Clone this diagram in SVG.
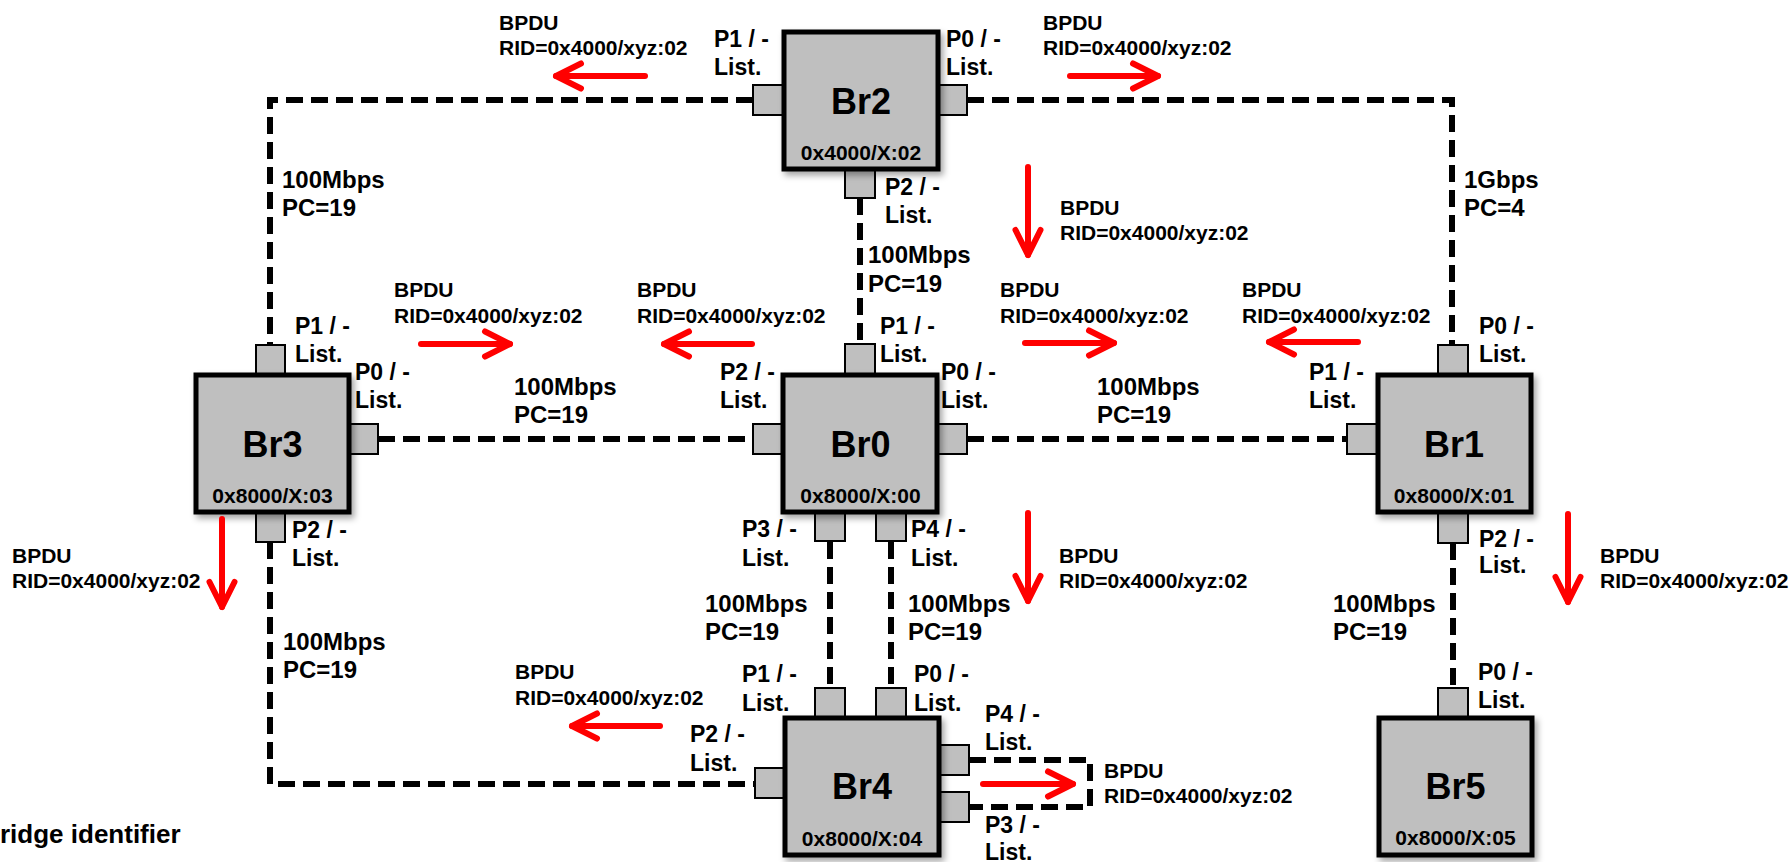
<svg xmlns="http://www.w3.org/2000/svg" width="1792" height="862" viewBox="0 0 1792 862">
<style>
text{font-family:"Liberation Sans",Arial,sans-serif;font-weight:bold;fill:#000}
.box{fill:#bfbfbf;stroke:#000;stroke-width:5;filter:url(#sh)}
.port{fill:#bfbfbf;stroke:#000;stroke-width:2}
.name{font-size:36px;text-anchor:middle}
.rid{font-size:21px;text-anchor:middle}
.pl{font-size:23px}
.ll{font-size:24px}
.bp{font-size:21px}
.link{fill:none;stroke:#000;stroke-width:6;stroke-dasharray:17 8}
.arr{fill:none;stroke:#ff0000;stroke-width:6;stroke-linecap:round;marker-end:url(#ah)}
</style>
<defs>
<filter id="sh" x="-10%" y="-10%" width="130%" height="130%">
<feDropShadow dx="3" dy="4" stdDeviation="3" flood-color="#000" flood-opacity="0.35"/>
</filter>
<marker id="ah" markerUnits="userSpaceOnUse" markerWidth="40" markerHeight="40" viewBox="-30 -20 40 40" refX="0" refY="0" orient="auto">
<path d="M-25,-12.5 L0,0 L-25,12.5" fill="none" stroke="#ff0000" stroke-width="6" stroke-linecap="round" stroke-linejoin="round"/>
</marker>
</defs>
<rect width="1792" height="862" fill="#fff"/>

<g id="connectors">
<polyline class="link" points="753,100 270,100 270,345"/>
<polyline class="link" points="967,100 1452,100 1452,345"/>
<line class="link" x1="860" y1="198" x2="860" y2="344"/>
<line class="link" x1="378" y1="439" x2="753" y2="439"/>
<line class="link" x1="967" y1="439" x2="1347" y2="439"/>
<polyline class="link" points="270,542 270,784 755,784"/>
<line class="link" x1="830" y1="542" x2="830" y2="688"/>
<line class="link" x1="891" y1="542" x2="891" y2="688"/>
<line class="link" x1="1453" y1="543" x2="1453" y2="688"/>
<polyline class="link" points="969,760 1090,760 1090,807 969,807"/>
</g>

<g id="link-labels">
<text class="ll" x="282" y="188">100Mbps</text><text class="ll" x="282" y="216">PC=19</text>
<text class="ll" x="1464" y="188">1Gbps</text><text class="ll" x="1464" y="216">PC=4</text>
<text class="ll" x="868" y="263">100Mbps</text><text class="ll" x="868" y="292">PC=19</text>
<text class="ll" x="514" y="395">100Mbps</text><text class="ll" x="514" y="423">PC=19</text>
<text class="ll" x="1097" y="395">100Mbps</text><text class="ll" x="1097" y="423">PC=19</text>
<text class="ll" x="283" y="650">100Mbps</text><text class="ll" x="283" y="678">PC=19</text>
<text class="ll" x="705" y="612">100Mbps</text><text class="ll" x="705" y="640">PC=19</text>
<text class="ll" x="908" y="612">100Mbps</text><text class="ll" x="908" y="640">PC=19</text>
<text class="ll" x="1333" y="612">100Mbps</text><text class="ll" x="1333" y="640">PC=19</text>
</g>

<g id="br2">
<rect class="port" x="753" y="85" width="31" height="30"/>
<rect class="port" x="937" y="85" width="30" height="30"/>
<rect class="port" x="845" y="169" width="30" height="29"/>
<rect class="box" x="784" y="32" width="154" height="137"/>
<text class="name" x="861" y="114">Br2</text>
<text class="rid" x="861" y="160">0x4000/X:02</text>
<text class="pl" x="714" y="47">P1 / -</text><text class="pl" x="714" y="75">List.</text>
<text class="pl" x="946" y="47">P0 / -</text><text class="pl" x="946" y="75">List.</text>
<text class="pl" x="885" y="195">P2 / -</text><text class="pl" x="885" y="223">List.</text>
</g>

<g id="br3">
<rect class="port" x="256" y="345" width="29" height="30"/>
<rect class="port" x="348" y="424" width="30" height="30"/>
<rect class="port" x="256" y="512" width="29" height="30"/>
<rect class="box" x="196" y="375" width="153" height="137"/>
<text class="name" x="272.5" y="457">Br3</text>
<text class="rid" x="272.5" y="503">0x8000/X:03</text>
<text class="pl" x="295" y="334">P1 / -</text><text class="pl" x="295" y="362">List.</text>
<text class="pl" x="355" y="380">P0 / -</text><text class="pl" x="355" y="408">List.</text>
<text class="pl" x="292" y="538">P2 / -</text><text class="pl" x="292" y="566">List.</text>
</g>

<g id="br0">
<rect class="port" x="845" y="344" width="30" height="31"/>
<rect class="port" x="753" y="424" width="30" height="30"/>
<rect class="port" x="937" y="424" width="30" height="30"/>
<rect class="port" x="815" y="512" width="30" height="29"/>
<rect class="port" x="876" y="512" width="30" height="29"/>
<rect class="box" x="783" y="375" width="154" height="137"/>
<text class="name" x="860.5" y="457">Br0</text>
<text class="rid" x="860.5" y="503">0x8000/X:00</text>
<text class="pl" x="880" y="334">P1 / -</text><text class="pl" x="880" y="362">List.</text>
<text class="pl" x="720" y="380">P2 / -</text><text class="pl" x="720" y="408">List.</text>
<text class="pl" x="941" y="380">P0 / -</text><text class="pl" x="941" y="408">List.</text>
<text class="pl" x="742" y="537">P3 / -</text><text class="pl" x="742" y="566">List.</text>
<text class="pl" x="911" y="537">P4 / -</text><text class="pl" x="911" y="566">List.</text>
</g>

<g id="br1">
<rect class="port" x="1438" y="345" width="30" height="30"/>
<rect class="port" x="1347" y="424" width="31" height="30"/>
<rect class="port" x="1438" y="512" width="30" height="31"/>
<rect class="box" x="1378" y="375" width="153" height="137"/>
<text class="name" x="1454" y="457">Br1</text>
<text class="rid" x="1454" y="503">0x8000/X:01</text>
<text class="pl" x="1479" y="334">P0 / -</text><text class="pl" x="1479" y="362">List.</text>
<text class="pl" x="1309" y="380">P1 / -</text><text class="pl" x="1309" y="408">List.</text>
<text class="pl" x="1479" y="547">P2 / -</text><text class="pl" x="1479" y="573">List.</text>
</g>

<g id="br4">
<rect class="port" x="815" y="688" width="30" height="30"/>
<rect class="port" x="876" y="688" width="30" height="30"/>
<rect class="port" x="755" y="768" width="30" height="30"/>
<rect class="port" x="939" y="745" width="30" height="30"/>
<rect class="port" x="939" y="792" width="30" height="30"/>
<rect class="box" x="785" y="718" width="154" height="137"/>
<text class="name" x="862" y="799">Br4</text>
<text class="rid" x="862" y="846">0x8000/X:04</text>
<text class="pl" x="742" y="682">P1 / -</text><text class="pl" x="742" y="711">List.</text>
<text class="pl" x="914" y="682">P0 / -</text><text class="pl" x="914" y="711">List.</text>
<text class="pl" x="690" y="742">P2 / -</text><text class="pl" x="690" y="771">List.</text>
<text class="pl" x="985" y="722">P4 / -</text><text class="pl" x="985" y="750">List.</text>
<text class="pl" x="985" y="833">P3 / -</text><text class="pl" x="985" y="860">List.</text>
</g>

<g id="br5">
<rect class="port" x="1438" y="688" width="30" height="30"/>
<rect class="box" x="1379" y="718" width="153" height="137"/>
<text class="name" x="1455.5" y="799">Br5</text>
<text class="rid" x="1455.5" y="845">0x8000/X:05</text>
<text class="pl" x="1478" y="680">P0 / -</text><text class="pl" x="1478" y="708">List.</text>
</g>

<g id="bpdu-arrows">
<line class="arr" x1="645" y1="76" x2="556" y2="76"/>
<line class="arr" x1="1070" y1="76" x2="1158" y2="76"/>
<line class="arr" x1="1028" y1="167" x2="1028" y2="255"/>
<line class="arr" x1="421" y1="344" x2="510" y2="344"/>
<line class="arr" x1="752" y1="344" x2="664" y2="344"/>
<line class="arr" x1="1025" y1="343" x2="1114" y2="343"/>
<line class="arr" x1="1358" y1="342" x2="1269" y2="342"/>
<line class="arr" x1="222" y1="519" x2="222" y2="607"/>
<line class="arr" x1="1028" y1="513" x2="1028" y2="601"/>
<line class="arr" x1="1568" y1="514" x2="1568" y2="602"/>
<line class="arr" x1="660" y1="726" x2="572" y2="726"/>
<line class="arr" x1="983" y1="784" x2="1073" y2="784"/>
</g>

<g id="bpdu-labels">
<text class="bp" x="499" y="30">BPDU</text><text class="bp" x="499" y="55">RID=0x4000/xyz:02</text>
<text class="bp" x="1043" y="30">BPDU</text><text class="bp" x="1043" y="55">RID=0x4000/xyz:02</text>
<text class="bp" x="1060" y="215">BPDU</text><text class="bp" x="1060" y="240">RID=0x4000/xyz:02</text>
<text class="bp" x="394" y="297">BPDU</text><text class="bp" x="394" y="323">RID=0x4000/xyz:02</text>
<text class="bp" x="637" y="297">BPDU</text><text class="bp" x="637" y="323">RID=0x4000/xyz:02</text>
<text class="bp" x="1000" y="297">BPDU</text><text class="bp" x="1000" y="323">RID=0x4000/xyz:02</text>
<text class="bp" x="1242" y="297">BPDU</text><text class="bp" x="1242" y="323">RID=0x4000/xyz:02</text>
<text class="bp" x="12" y="563">BPDU</text><text class="bp" x="12" y="588">RID=0x4000/xyz:02</text>
<text class="bp" x="1059" y="563">BPDU</text><text class="bp" x="1059" y="588">RID=0x4000/xyz:02</text>
<text class="bp" x="1600" y="563">BPDU</text><text class="bp" x="1600" y="588">RID=0x4000/xyz:02</text>
<text class="bp" x="515" y="679">BPDU</text><text class="bp" x="515" y="705">RID=0x4000/xyz:02</text>
<text class="bp" x="1104" y="778">BPDU</text><text class="bp" x="1104" y="803">RID=0x4000/xyz:02</text>
</g>

<text x="0" y="843" style="font-size:26px">ridge identifier</text>
</svg>
